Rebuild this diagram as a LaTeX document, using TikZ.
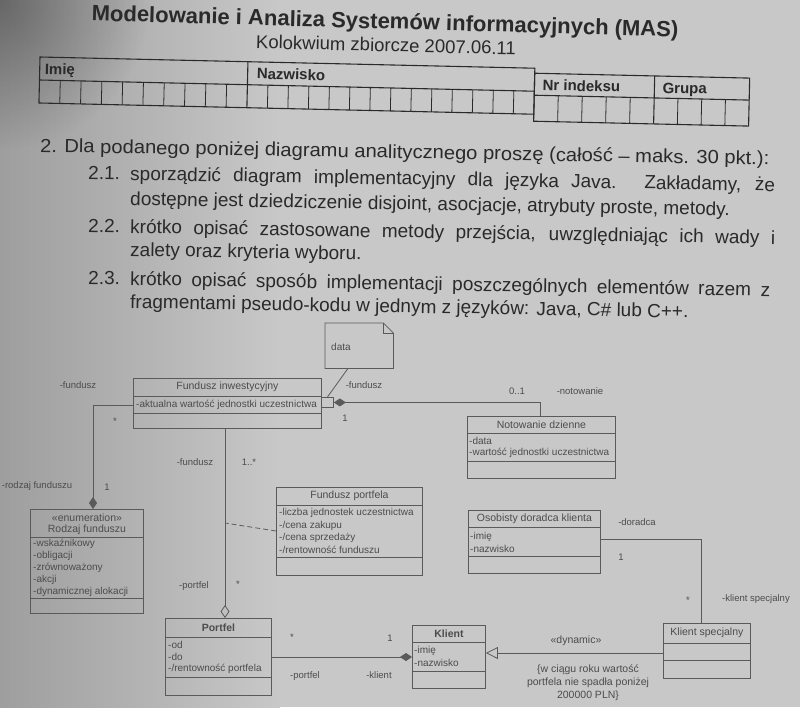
\documentclass[tikz,border=0pt]{standalone}
\usepackage{graphicx}
\usepackage{fontspec}
\setmainfont{Liberation Sans}
\usetikzlibrary{arrows.meta,calc,fadings}

\definecolor{paper}{HTML}{C8C8C8}
\definecolor{paperdark}{HTML}{9E9E9E}
\definecolor{ink}{HTML}{2A2A2A}
\definecolor{umlline}{HTML}{5A5A5A}
\definecolor{umltext}{HTML}{4C4C4C}

\tikzfading[name=softspot, inner color=transparent!0, outer color=transparent!100]

\begin{document}
\begin{tikzpicture}[x=1pt,y=-1pt,
  qtext/.style={text=ink, inner sep=0pt, anchor=base west, rotate=-1.0, font=\fontsize{19}{20}\selectfont},
  tbl/.style={draw=ink, line width=1.1pt},
  tblthin/.style={draw=ink, line width=0.8pt},
  tbllabel/.style={text=ink, inner sep=0pt, anchor=base west, rotate=-1.3, font=\bfseries\fontsize{15}{16}\selectfont},
  umlbox/.style={draw=umlline, line width=0.9pt, inner sep=0pt, anchor=north west},
  cline/.style={draw=umlline, line width=0.9pt},
  cname/.style={text=umltext, inner sep=0pt, font=\fontsize{10.5}{12}\selectfont},
  cnamebold/.style={cname, font=\bfseries\fontsize{10.5}{12}\selectfont},
  attr/.style={text=umltext, inner sep=0pt, anchor=west, font=\fontsize{10}{12}\selectfont},
  role/.style={text=umltext, inner sep=0pt, font=\fontsize{9.5}{11}\selectfont},
  assoc/.style={draw=umlline, line width=0.8pt},
  comp/.style={assoc, -{Diamond[length=12pt,width=8pt]}},
  aggr/.style={assoc, -{Diamond[open,length=13pt,width=9pt]}},
  gen/.style={assoc, -{Triangle[open,length=12pt,width=12pt]}},
]
\useasboundingbox (0,0) rectangle (800,707);
\clip (0,0) rectangle (800,707);

% paper with darker left edge
\fill[paper] (0,0) rectangle (800,707);
\shade[left color=paperdark, right color=paper] (0,0) rectangle (280,707);
\fill[black, opacity=0.35, path fading=softspot] (0,0) circle (150);

% ---------- heading ----------
\node[text=ink, inner sep=0pt, rotate=-1.6, font=\bfseries\fontsize{22}{24}\selectfont] (title) at (385,23)
  {Modelowanie i Analiza Systemów informacyjnych (MAS)};
\node[text=ink, inner sep=0pt, rotate=-1.4, font=\fontsize{18.5}{20}\selectfont] (subtitle) at (386,45)
  {Kolokwium zbiorcze 2007.06.11};

% ---------- name / index table ----------
\begin{scope}[shift={(40,57)}, rotate=-1.3]
  \draw[tbl] (0,0) rectangle (495,46);
  \draw[tbl] (0,23) -- (495,23);
  \draw[tbl] (208,0) -- (208,46);
  \foreach \i in {1,...,9} \draw[tblthin] ({20.8*\i},23) -- ({20.8*\i},46);
  \foreach \i in {1,...,13} \draw[tblthin] ({208+20.5*\i},23) -- ({208+20.5*\i},46);
  \draw[tbl] (495,5) rectangle (710,53);
  \draw[tbl] (495,27) -- (710,27);
  \draw[tbl] (615,5) -- (615,53);
  \foreach \i in {1,...,4} \draw[tblthin] ({495+24*\i},27) -- ({495+24*\i},53);
  \foreach \i in {1,2,3} \draw[tblthin] ({615+23.75*\i},27) -- ({615+23.75*\i},53);
  \node[tbllabel] (limie) at (5,17) {Imię};
  \node[tbllabel] (lnazw) at (217,17) {Nazwisko};
  \node[tbllabel] (lnr) at (503,22) {Nr indeksu};
  \node[tbllabel] (lgr) at (623,22) {Grupa};
\end{scope}

% ---------- task text ----------
\node[qtext] (q0) at (40,152) {\scalebox{1.06}[1]{2. Dla podanego poniżej diagramu analitycznego proszę (całość – maks. 30 pkt.):}};
\node[qtext] (q21n) at (88,179) {2.1.};
\node[qtext] (q21a) at (130,180) {\makebox[645pt][s]{sporządzić diagram implementacyjny dla języka Java. Zakładamy, że}};
\node[qtext] (q21b) at (130,205) {dostępne jest dziedziczenie disjoint, asocjacje, atrybuty proste, metody.};
\node[qtext] (q22n) at (88,232) {2.2.};
\node[qtext] (q22a) at (130,233) {\makebox[645pt][s]{krótko opisać zastosowane metody przejścia, uwzględniając ich wady i}};
\node[qtext] (q22b) at (130,256) {zalety oraz kryteria wyboru.};
\node[qtext] (q23n) at (88,284) {2.3.};
\node[qtext] (q23a) at (130,285) {\makebox[640pt][s]{krótko opisać sposób implementacji poszczególnych elementów razem z}};
\node[qtext] (q23b) at (130,308) {fragmentami pseudo-kodu w jednym z języków: Java, C\# lub C++.};

% ---------- class diagram ----------
% note
\node[inner sep=0pt, minimum width=68pt, minimum height=45pt, anchor=north west] (note) at (325,323) {};
\draw[assoc] (note.north west) -- ($(note.north east)+(-10,0)$) -- ($(note.north east)+(0,10)$)
  -- (note.south east) -- (note.south west) -- cycle;
\draw[assoc] ($(note.north east)+(-10,0)$) -- ($(note.north east)+(-10,10)$) -- ($(note.north east)+(0,10)$);
\node[attr] (notetxt) at (331,347) {data};

% Fundusz inwestycyjny
\node[umlbox, minimum width=188pt, minimum height=50pt] (fi) at (133,378) {};
\draw[cline] ($(fi.north west)+(0,18)$) -- ($(fi.north east)+(0,18)$);
\draw[cline] ($(fi.north west)+(0,35)$) -- ($(fi.north east)+(0,35)$);
\node[cname] (fin) at ($(fi.north)+(0,9)$) {Fundusz inwestycyjny};
\node[attr] (fia) at ($(fi.north west)+(3,26.5)$) {-aktualna wartość jednostki uczestnictwa};

% qualifier
\node[umlbox, minimum width=12pt, minimum height=10pt] (q) at (321,397) {};

% Notowanie dzienne
\node[umlbox, minimum width=148pt, minimum height=62pt] (nd) at (467,416) {};
\draw[cline] ($(nd.north west)+(0,17)$) -- ($(nd.north east)+(0,17)$);
\draw[cline] ($(nd.north west)+(0,45)$) -- ($(nd.north east)+(0,45)$);
\node[cname] (ndn) at ($(nd.north)+(0,8.5)$) {Notowanie dzienne};
\node[attr] (nda1) at ($(nd.north west)+(2,25)$) {-data};
\node[attr] (nda2) at ($(nd.north west)+(2,37)$) {-wartość jednostki uczestnictwa};

% Rodzaj funduszu
\node[umlbox, minimum width=113pt, minimum height=104pt] (rf) at (30,509) {};
\draw[cline] ($(rf.north west)+(0,28)$) -- ($(rf.north east)+(0,28)$);
\draw[cline] ($(rf.north west)+(0,89)$) -- ($(rf.north east)+(0,89)$);
\node[cname] (rfs) at ($(rf.north)+(0,8.5)$) {«enumeration»};
\node[cname] (rfn) at ($(rf.north)+(0,20.5)$) {Rodzaj funduszu};
\node[attr] (rfa1) at ($(rf.north west)+(3,35)$) {-wskaźnikowy};
\node[attr] (rfa2) at ($(rf.north west)+(3,47)$) {-obligacji};
\node[attr] (rfa3) at ($(rf.north west)+(3,59)$) {-zrównoważony};
\node[attr] (rfa4) at ($(rf.north west)+(3,71)$) {-akcji};
\node[attr] (rfa5) at ($(rf.north west)+(3,83)$) {-dynamicznej alokacji};

% Fundusz portfela
\node[umlbox, minimum width=146pt, minimum height=88pt] (fp) at (276,487) {};
\draw[cline] ($(fp.north west)+(0,18)$) -- ($(fp.north east)+(0,18)$);
\draw[cline] ($(fp.north west)+(0,70)$) -- ($(fp.north east)+(0,70)$);
\node[cname] (fpn) at ($(fp.north)+(0,9)$) {Fundusz portfela};
\node[attr] (fpa1) at ($(fp.north west)+(3,26)$) {-liczba jednostek uczestnictwa};
\node[attr] (fpa2) at ($(fp.north west)+(3,39)$) {-/cena zakupu};
\node[attr] (fpa3) at ($(fp.north west)+(3,51)$) {-/cena sprzedaży};
\node[attr] (fpa4) at ($(fp.north west)+(3,63)$) {-/rentowność funduszu};

% Osobisty doradca klienta
\node[umlbox, minimum width=132pt, minimum height=63pt] (od) at (468,510) {};
\draw[cline] ($(od.north west)+(0,17)$) -- ($(od.north east)+(0,17)$);
\draw[cline] ($(od.north west)+(0,46)$) -- ($(od.north east)+(0,46)$);
\node[cname] (odn) at ($(od.north)+(0,8.5)$) {Osobisty doradca klienta};
\node[attr] (oda1) at ($(od.north west)+(2,27)$) {-imię};
\node[attr] (oda2) at ($(od.north west)+(2,39)$) {-nazwisko};

% Portfel
\node[umlbox, minimum width=106pt, minimum height=77pt] (pf) at (165,618) {};
\draw[cline] ($(pf.north west)+(0,19)$) -- ($(pf.north east)+(0,19)$);
\draw[cline] ($(pf.north west)+(0,59)$) -- ($(pf.north east)+(0,59)$);
\node[cnamebold] (pfn) at ($(pf.north)+(0,10)$) {Portfel};
\node[attr] (pfa1) at ($(pf.north west)+(3,27)$) {-od};
\node[attr] (pfa2) at ($(pf.north west)+(3,39)$) {-do};
\node[attr] (pfa3) at ($(pf.north west)+(3,51)$) {-/rentowność portfela};

% Klient
\node[umlbox, minimum width=73pt, minimum height=63pt] (kl) at (412,625) {};
\draw[cline] ($(kl.north west)+(0,17)$) -- ($(kl.north east)+(0,17)$);
\draw[cline] ($(kl.north west)+(0,46)$) -- ($(kl.north east)+(0,46)$);
\node[cnamebold] (kln) at ($(kl.north)+(0,8.5)$) {Klient};
\node[attr] (kla1) at ($(kl.north west)+(2,26)$) {-imię};
\node[attr] (kla2) at ($(kl.north west)+(2,38)$) {-nazwisko};

% Klient specjalny
\node[umlbox, minimum width=87pt, minimum height=55pt] (ks) at (663,623) {};
\draw[cline] ($(ks.north west)+(0,20)$) -- ($(ks.north east)+(0,20)$);
\draw[cline] ($(ks.north west)+(0,37)$) -- ($(ks.north east)+(0,37)$);
\node[cname] (ksn) at ($(ks.north)+(0,10)$) {Klient specjalny};

% ---------- connectors ----------
\draw[comp] ($(fi.north west)+(0,27)$) -| ($(rf.north west)+(63,0)$);
\draw[comp] ($(nd.north west)+(73,0)$) |- (q.east);
\draw[assoc] ($(note.south west)+(23,0)$) -- (q.north);
\coordinate (fx) at (225,0);
\draw[aggr] (fi.south -| fx) -- (pf.north -| fx);
\coordinate (acp) at (225,523);
\draw[assoc, dash pattern=on 5pt off 3pt] ($(fp.north west)+(0,44)$) -- (acp);
\coordinate (pk) at ($(pf.north east)+(0,39)$);
\draw[comp] (pk) -- (pk -| kl.west);
\coordinate (ksg) at ($(ks.north west)+(0,30)$);
\draw[gen] (ksg) -- (ksg -| kl.east);
\coordinate (odr) at ($(od.north east)+(0,29)$);
\draw[assoc] (odr) -| ($(ks.north west)+(38,0)$);

% ---------- role names and multiplicities ----------
\node[role] (r1) at (78,385) {-fundusz};
\node[role] (r2) at (364,385) {-fundusz};
\node[role] (r3) at (517,391) {0..1};
\node[role] (r4) at (580,391) {-notowanie};
\node[role] (r5) at (345,418) {1};
\node[role] (r6) at (115,421) {*};
\node[role] (r7) at (37,486) {-rodzaj funduszu};
\node[role] (r8) at (107,487) {1};
\node[role] (r9) at (195,462) {-fundusz};
\node[role] (r10) at (249,462) {1..*};
\node[role] (r11) at (194,586) {-portfel};
\node[role] (r12) at (238,584) {*};
\node[role] (r13) at (292,637) {*};
\node[role] (r14) at (390,638) {1};
\node[role] (r15) at (305,676) {-portfel};
\node[role] (r16) at (379,675) {-klient};
\node[role] (r17) at (637,522) {-doradca};
\node[role] (r18) at (621,557) {1};
\node[role] (r19) at (688,600) {*};
\node[role] (r20) at (756,599) {-klient specjalny};
\node[role, font=\fontsize{10.5}{12}\selectfont] (dyn) at (576,641) {«dynamic»};
\node[role, align=center, font=\fontsize{10.5}{13}\selectfont] (cons) at (588,683)
  {\{w ciągu roku wartość\\portfela nie spadła poniżej\\200000 PLN\}};

\end{tikzpicture}
\end{document}
